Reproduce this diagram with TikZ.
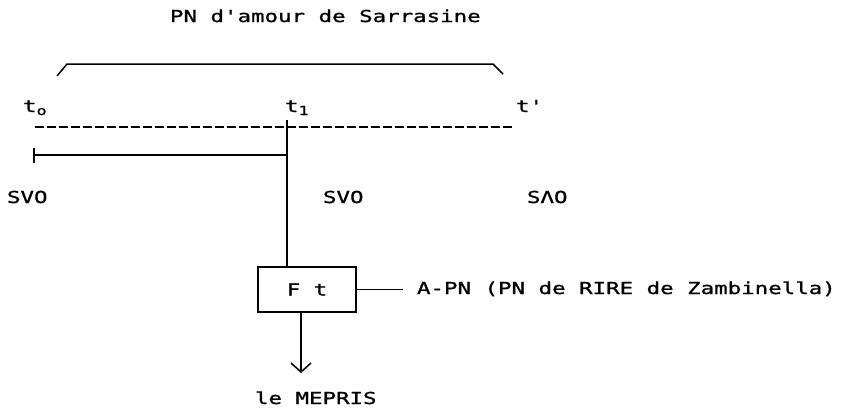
\documentclass[tikz,border=0pt]{standalone}
\usepackage{fontspec}
\newfontfamily\dotfont[FakeStretch=1.36,FakeBold=1.2]{DejaVu Sans Mono}
\usetikzlibrary{arrows.meta}
\newcommand{\mysub}[1]{\raisebox{-3pt}{\fontsize{12.5}{12.5}\selectfont #1}}
\begin{document}
\begin{tikzpicture}[x=1pt,y=-1pt,
  every node/.style={inner sep=0pt,outer sep=0pt},
  lbl/.style={anchor=base west,font=\dotfont\fontsize{16.5}{18}\selectfont},
  ln/.style={line width=1.5pt},
  boxnode/.style={draw,line width=1.5pt,minimum width=98pt,minimum height=45pt,
    font=\dotfont\fontsize{16.5}{18}\selectfont}]
\useasboundingbox (0,0) rectangle (841,408);
% title and brace
\node[lbl] (title) at (170,22) {PN d'amour de Sarrasine};
\coordinate (b0) at (57,76);
\coordinate (b1) at (67,64);
\coordinate (b2) at (493,64);
\coordinate (b3) at (503,74);
\draw[ln] (b0) -- (b1) -- (b2) -- (b3);
% time labels
\node[lbl] (t0) at (23,112) {t\mysub{o}};
\node[lbl] (t1) at (285,112) {t\mysub{1}};
\node[lbl] (tp) at (516,112) {t'};
% dashed time line
\coordinate (d0) at (35,127);
\coordinate (d1) at (512,127);
\draw[ln,dash pattern=on 9pt off 3pt] (d0) -- (d1);
% box
\node[boxnode] (ft) at (307,289.5) {F t};
% vertical line from t1 to box
\coordinate (v1) at (287,120);
\draw[ln] (v1) -- (ft.north -| v1);
% solid segment with bar
\coordinate (s0) at (33,155);
\draw[ln,{Bar[width=15pt]}-] (s0) -- (s0 -| v1);
% state labels
\node[lbl] (svo1) at (7,203) {SVO};
\node[lbl] (svo2) at (323,203) {SVO};
\node[lbl] (sao) at (527,203) {SΛO};
% anti-programme
\node[lbl] (apn) at (417,294) {A-PN (PN de RIRE de Zambinella)};
\draw[ln] (ft.east) -- ([xshift=-14pt]apn.west |- ft.east);
% result
\node[lbl] (mepris) at (255,404) {le MEPRIS};
\coordinate (tip) at (301,373);
\draw[ln,-{Straight Barb[length=9pt,width=20pt,line width=1.5pt]}] (ft.south -| tip) -- (tip);
\end{tikzpicture}
\end{document}
